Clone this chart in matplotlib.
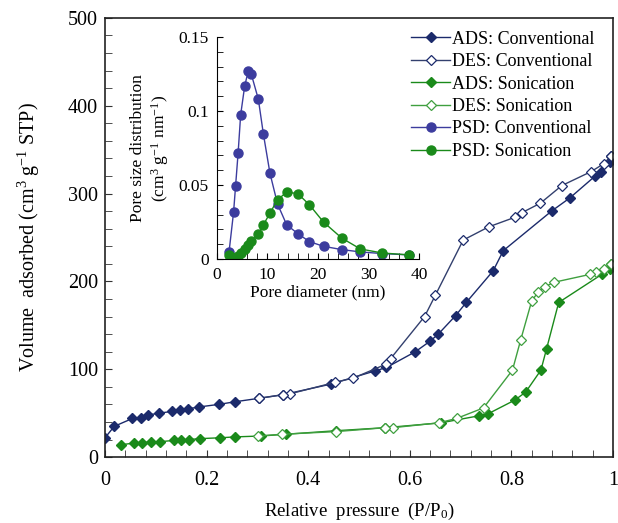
import matplotlib
matplotlib.use('Agg')
import matplotlib.pyplot as plt
from matplotlib.ticker import MultipleLocator

plt.rcParams['font.family'] = ['Liberation Serif', 'DejaVu Serif']
plt.rcParams['mathtext.fontset'] = 'custom'
plt.rcParams['mathtext.rm'] = 'Liberation Serif'
plt.rcParams['mathtext.it'] = 'Liberation Serif:italic'

# isotherms
ads_conv_x = [0.0, 0.018, 0.054, 0.070, 0.085, 0.107, 0.131, 0.148, 0.164, 0.184, 0.224, 0.256,
              0.304, 0.350, 0.444, 0.531, 0.554, 0.611, 0.640, 0.656, 0.690, 0.711, 0.764, 0.784,
              0.879, 0.915, 0.965, 0.976, 0.993, 0.996]
ads_conv_y = [22, 35, 44, 45, 48, 50, 52, 54, 55, 57, 60, 63,
              67, 71, 83, 98, 102, 120, 132, 140, 161, 176, 212, 235,
              280, 295, 320, 325, 336, 343]
des_conv_x = [0.996, 0.982, 0.957, 0.899, 0.857, 0.820, 0.807, 0.755, 0.705, 0.650, 0.629,
              0.562, 0.554, 0.489, 0.452, 0.364, 0.350, 0.304]
des_conv_y = [343, 334, 325, 309, 289, 278, 273, 262, 247, 184, 160,
              112, 106, 90, 85, 72, 71, 67]
ads_son_x = [0.031, 0.057, 0.072, 0.091, 0.108, 0.135, 0.150, 0.166, 0.186, 0.227, 0.256,
             0.306, 0.356, 0.454, 0.552, 0.661, 0.736, 0.753, 0.807, 0.828, 0.858, 0.869,
             0.893, 0.978, 0.993, 0.996]
ads_son_y = [14, 16, 16, 17.5, 17.5, 19, 19, 20, 21, 22, 23,
             24, 26, 30, 33.5, 39, 47, 49, 65, 74, 99, 123,
             176, 208, 214, 220]
des_son_x = [0.996, 0.982, 0.966, 0.955, 0.884, 0.866, 0.853, 0.840, 0.818, 0.802, 0.745,
             0.692, 0.657, 0.567, 0.552, 0.454, 0.348, 0.302]
des_son_y = [220, 214, 211, 208, 199, 194, 188, 178, 133, 99, 56,
             44, 39, 33.5, 33.5, 29, 26, 24]

# pore size distribution (inset)
pore_d = [2.4, 3.3, 3.7, 4.2, 4.7, 5.5, 6.2, 6.8, 8.2, 9.2, 10.5, 12.0,
          13.8, 16.0, 18.3, 21.1, 24.7, 28.4, 32.7, 38.0]
psd_conv = [0.0047, 0.0317, 0.0496, 0.0719, 0.0975, 0.117, 0.127, 0.125, 0.108, 0.0844, 0.0579, 0.0371,
            0.0231, 0.0171, 0.0117, 0.0085, 0.0063, 0.0047, 0.0036, 0.0027]
pore_d_son = [2.4, 2.85, 3.7, 4.2, 4.8, 5.5, 6.2, 6.8, 8.2, 9.2, 10.5, 12.0,
              13.8, 16.0, 18.3, 21.1, 24.7, 28.4, 32.7, 38.0]
psd_son = [0.0029, 0.0013, 0.0, 0.0018, 0.004, 0.0067, 0.0097, 0.0119, 0.0168, 0.023, 0.031, 0.040,
           0.0451, 0.0442, 0.0366, 0.0249, 0.0141, 0.0067, 0.004, 0.0027]

navy = '#1b2a6b'
green = '#1a8a1a'
lgreen = '#3f9f3f'
purple = '#3c3c9e'

fig = plt.figure(figsize=(6.18, 5.23), dpi=100)
ax = fig.add_axes([0.170, 0.126, 0.822, 0.840])

l1, = ax.plot(ads_conv_x, ads_conv_y, '-D', color=navy, lw=1, ms=5.5, mfc=navy, mec=navy)
l2, = ax.plot(des_conv_x, des_conv_y, '-D', color='#33406e', lw=1, ms=5.5, mfc='white', mec=navy, mew=0.9)
l3, = ax.plot(ads_son_x, ads_son_y, '-D', color=green, lw=1, ms=5.5, mfc=green, mec=green)
l4, = ax.plot(des_son_x, des_son_y, '-D', color=lgreen, lw=1, ms=5.5, mfc='white', mec=lgreen, mew=0.9)

ax.set_xlim(0, 1)
ax.set_ylim(0, 500)
ax.xaxis.set_minor_locator(MultipleLocator(0.04))
ax.yaxis.set_major_locator(MultipleLocator(100))
ax.yaxis.set_minor_locator(MultipleLocator(20))
ax.set_xticks([0, 0.2, 0.4, 0.6, 0.8, 1.0])
ax.set_xticklabels(['0', '0.2', '0.4', '0.6', '0.8', '1'])
ax.tick_params(which='both', direction='in', labelsize=14.5, color='#333333', length=5)
ax.tick_params(axis='x', pad=10)
ax.tick_params(axis='y', pad=5)
ax.set_xlabel('Relative  pressure  (P/P$_0$)', fontsize=13.5, labelpad=8)
ax.set_ylabel('Volume  adsorbed (cm$^3$ g$^{-1}$ STP)', fontsize=14.5, labelpad=19)
for s in ax.spines.values():
    s.set_color('#222222')
    s.set_linewidth(1.2)

ins = fig.add_axes([0.351, 0.505, 0.327, 0.424])
l5, = ins.plot(pore_d, psd_conv, '-o', color=purple, lw=1, ms=6.5, mfc=purple, mec=purple)
l6, = ins.plot(pore_d_son, psd_son, '-o', color=green, lw=1, ms=6.5, mfc=green, mec=green)
ins.set_xlim(0, 40)
ins.set_ylim(0, 0.15)
ins.xaxis.set_major_locator(MultipleLocator(10))
ins.xaxis.set_minor_locator(MultipleLocator(2))
ins.yaxis.set_minor_locator(MultipleLocator(0.01))
ins.set_yticks([0, 0.05, 0.1, 0.15])
ins.set_yticklabels(['0', '0.05', '0.1', '0.15'])
ins.tick_params(which='both', direction='in', labelsize=12.5, length=4, pad=6)
ins.spines['top'].set_visible(False)
ins.spines['right'].set_visible(False)
ins.patch.set_alpha(0)
ins.set_xlabel('Pore diameter (nm)', fontsize=12.5, labelpad=1)
ins.set_ylabel('Pore size distribution\n(cm$^3$ g$^{-1}$ nm$^{-1}$)', fontsize=12.5, labelpad=5)

ax.legend([l1, l2, l3, l4, l5, l6],
          ['ADS: Conventional', 'DES: Conventional', 'ADS: Sonication',
           'DES: Sonication', 'PSD: Conventional', 'PSD: Sonication'],
          loc='upper right', bbox_to_anchor=(0.985, 0.995), frameon=False, fontsize=13,
          handlelength=2.2, handletextpad=0.1, labelspacing=0.3, borderaxespad=0.2)

fig.savefig('out.png', dpi=100)
